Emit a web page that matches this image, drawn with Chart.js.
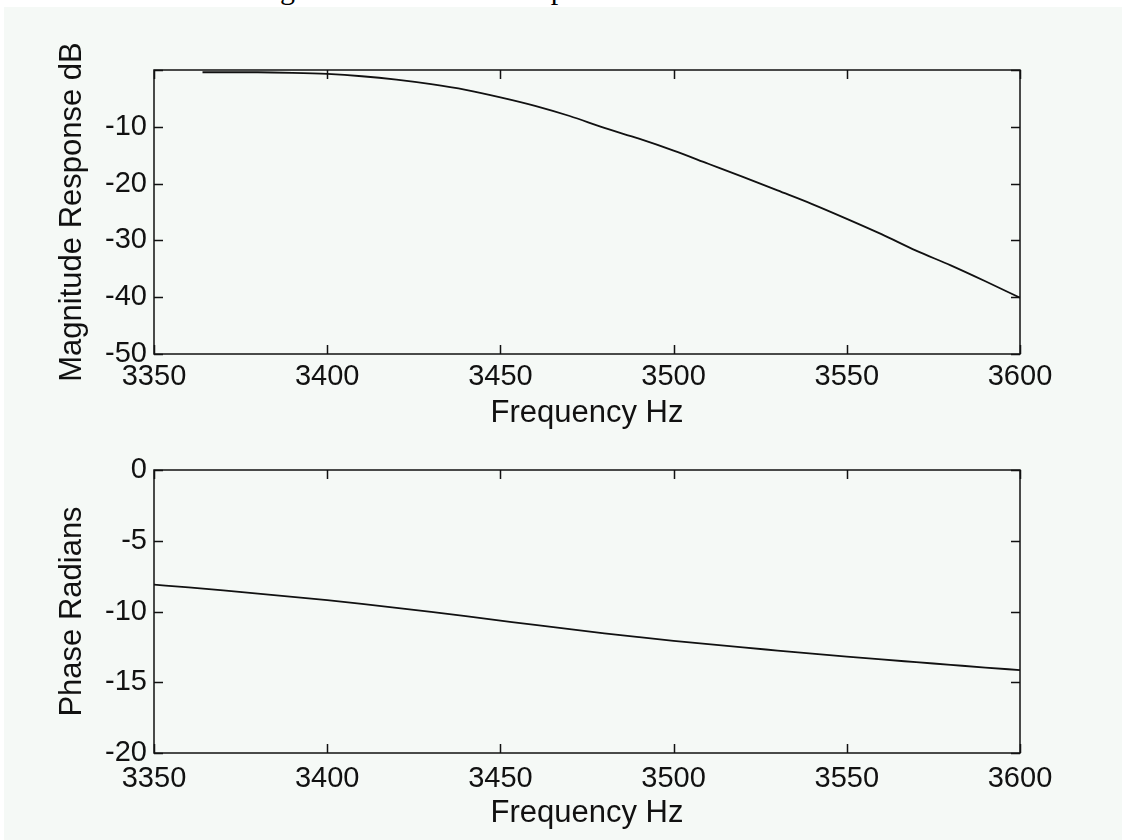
<!DOCTYPE html>
<html>
<head>
<meta charset="utf-8">
<script src="https://cdn.jsdelivr.net/npm/chart.js@4.4.1/dist/chart.umd.min.js"></script>
<style>
  html, body { margin: 0; padding: 0; background: #ffffff; }
  body { width: 1122px; height: 840px; position: relative; overflow: hidden; }
  #figure { position: absolute; left: 4px; top: 7px; width: 1118px; height: 833px; background: #f5f9f6; }
  #title-strip { position: absolute; left: 0; top: 0; width: 1122px; height: 7px; overflow: hidden; }
  #title-strip span {
    position: absolute; left: 0; width: 1174px; top: -26px; text-align: center;
    font-family: "Liberation Serif", "Times New Roman", serif; font-size: 30px; line-height: 30px; color: #000;
    white-space: nowrap;
  }
  .plot { position: absolute; left: 0; width: 1122px; }
  #magPlot { top: 0; height: 440px; }
  #phasePlot { top: 440px; height: 400px; }
</style>
</head>
<body>
<div id="figure"></div>
<div id="title-strip"><span>Magnitude and Phase Responses of the Butterworth Filter</span></div>
<div class="plot" id="magPlot"><canvas id="magChart"></canvas></div>
<div class="plot" id="phasePlot"><canvas id="phaseChart"></canvas></div>
<script>
// --- data ---
const freqTicks = [3350, 3400, 3450, 3500, 3550, 3600];
const magTicks = [-50, -40, -30, -20, -10, 0];
const phaseTicks = [-20, -15, -10, -5, 0];

const magFreq = [3364, 3370, 3380, 3390, 3400, 3410, 3420, 3430, 3440, 3450, 3460, 3470, 3480,
  3490, 3500, 3510, 3520, 3530, 3540, 3550, 3560, 3570, 3580, 3590, 3600];
const magDb = [-0.4, -0.4, -0.4, -0.5, -0.7, -1.1, -1.7, -2.5, -3.5, -4.8, -6.3, -8.1, -10.2,
  -12.1, -14.2, -16.5, -18.8, -21.2, -23.6, -26.2, -28.9, -31.8, -34.4, -37.2, -40.1];

const phaseFreq = [3350, 3360, 3370, 3380, 3390, 3400, 3410, 3420, 3430, 3440, 3450, 3460, 3470,
  3480, 3490, 3500, 3510, 3520, 3530, 3540, 3550, 3560, 3570, 3580, 3590, 3600];
const phaseRad = [-8.10, -8.30, -8.51, -8.73, -8.96, -9.20, -9.46, -9.74, -10.03, -10.33, -10.64, -10.95, -11.25,
  -11.54, -11.81, -12.07, -12.31, -12.54, -12.76, -12.98, -13.19, -13.39, -13.58, -13.77, -13.96, -14.14];

const tickFont = { family: "'Liberation Sans', Arial, sans-serif", size: 29 };
const titleFont = { family: "'Liberation Sans', Arial, sans-serif", size: 31, lineHeight: 1 };
const ink = '#111111';

// box round the axes with ticks pointing inwards on all four sides
const matlabBox = {
  id: 'matlabBox',
  afterDraw(chart) {
    const { ctx, chartArea: a, scales } = chart;
    const len = 9;
    ctx.save();
    ctx.strokeStyle = ink;
    ctx.lineWidth = 1.5;
    ctx.strokeRect(a.left, a.top, a.right - a.left, a.bottom - a.top);
    ctx.beginPath();
    scales.x.ticks.forEach(t => {
      const px = Math.round(scales.x.getPixelForValue(t.value)) + 0.5;
      ctx.moveTo(px, a.bottom); ctx.lineTo(px, a.bottom - len);
      ctx.moveTo(px, a.top); ctx.lineTo(px, a.top + len);
    });
    scales.y.ticks.forEach(t => {
      const py = Math.round(scales.y.getPixelForValue(t.value)) + 0.5;
      ctx.moveTo(a.left, py); ctx.lineTo(a.left + len, py);
      ctx.moveTo(a.right, py); ctx.lineTo(a.right - len, py);
    });
    ctx.stroke();
    ctx.restore();
  }
};

function makeChart(id, xs, ys, yTicks, yTitle, opts) {
  const points = xs.map((x, i) => ({ x: x, y: ys[i] }));
  return new Chart(document.getElementById(id).getContext('2d'), {
    type: 'line',
    data: {
      datasets: [{
        data: points,
        borderColor: ink,
        borderWidth: 1.8,
        pointRadius: 0,
        cubicInterpolationMode: 'monotone',
        fill: false
      }]
    },
    options: {
      responsive: true,
      maintainAspectRatio: false,
      animation: false,
      events: [],
      layout: { padding: { top: opts.padTop, right: 102, left: 0, bottom: 0 } },
      plugins: { legend: { display: false }, tooltip: { enabled: false } },
      scales: {
        x: {
          type: 'linear',
          min: 3350,
          max: 3600,
          grid: { display: false, drawTicks: false },
          border: { display: false },
          afterBuildTicks: s => { s.ticks = freqTicks.map(v => ({ value: v })); },
          afterFit: s => { s.height = opts.xHeight; },
          ticks: {
            font: tickFont, color: ink, padding: opts.xTickPad, maxRotation: 0, autoSkip: false,
            callback: v => String(v)
          },
          title: { display: true, text: 'Frequency Hz', font: titleFont, color: ink, padding: { top: 0, bottom: opts.xTitlePad } }
        },
        y: {
          type: 'linear',
          min: yTicks[0],
          max: yTicks[yTicks.length - 1],
          grid: { display: false, drawTicks: false },
          border: { display: false },
          afterBuildTicks: s => { s.ticks = yTicks.map(v => ({ value: v })); },
          afterFit: s => { s.width = 154; },
          ticks: {
            font: tickFont, color: ink, padding: 7,
            callback: v => (opts.hideZero && v === 0) ? '' : String(v)
          },
          title: { display: true, text: yTitle, font: titleFont, color: ink, padding: { top: 57, bottom: 0 } }
        }
      }
    },
    plugins: [matlabBox]
  });
}

makeChart('magChart', magFreq, magDb, magTicks, 'Magnitude Response dB',
  { padTop: 70, xHeight: 86, xTitlePad: 11, xTickPad: 6, hideZero: true });
makeChart('phaseChart', phaseFreq, phaseRad, phaseTicks, 'Phase Radians',
  { padTop: 30, xHeight: 87, xTitlePad: 11, xTickPad: 9, hideZero: false });
</script>
</body>
</html>
